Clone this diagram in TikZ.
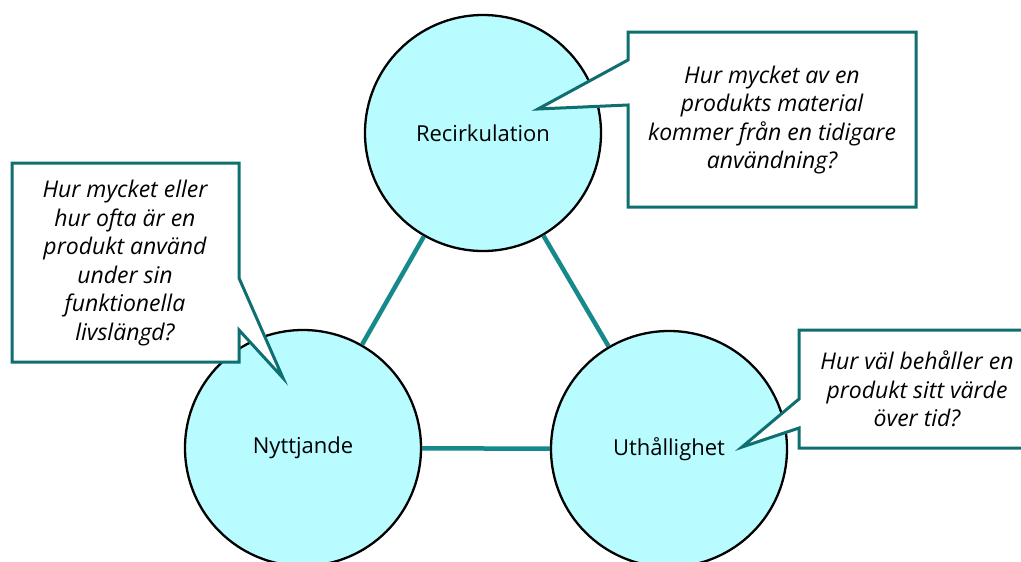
\documentclass[tikz,border=0pt]{standalone}
\usepackage{fontspec}
\setmainfont{Open Sans}
\definecolor{cfill}{HTML}{B8FCFF}
\definecolor{boxteal}{HTML}{0F6E70}
\definecolor{linkteal}{HTML}{16898C}
\begin{document}
\begin{tikzpicture}[x=1pt,y=-1pt,
  pillar/.style={circle, draw=black, line width=2.3pt, fill=cfill, minimum size=236pt, inner sep=0pt, font=\fontsize{22}{26}\selectfont},
  link/.style={draw=linkteal, line width=4.5pt},
  callout/.style={draw=boxteal, line width=3pt, fill=white, line join=miter},
  qtext/.style={align=center, font=\fontsize{23}{28.6}\selectfont\itshape, inner sep=0pt}]
\useasboundingbox (0,0) rectangle (1021,562);
\clip (0,0) rectangle (1021,562);
% circles
\node[pillar] (rec) at (483,133) {Recirkulation};
\node[pillar] (nyt) at (303,448) {Nyttjande};
\node[pillar] (uth) at (669,449) {Uthållighet};
% links
\draw[link] (rec) -- (nyt);
\draw[link] (rec) -- (uth);
\draw[link] (nyt) -- (uth);
% callouts
\coordinate (tipR) at (538,109);
\coordinate (tipN) at (283,378);
\coordinate (tipU) at (742,447);
\draw[callout] (628,32) -- (916,32) -- (916,207) -- (628,207) -- (628,105) -- (tipR) -- (628,60) -- cycle;
\draw[callout] (12,163) -- (239,163) -- (239,278) -- (tipN) -- (239,330) -- (239,362) -- (12,362) -- cycle;
\draw[callout] (799,330) -- (1040,330) -- (1040,448) -- (799,448) -- (799,428) -- (tipU) -- (799,399) -- cycle;
\node[qtext] (qR) at (772,120) {Hur mycket av en\\produkts material\\kommer från en tidigare\\användning?};
\node[qtext] (qN) at (125,263) {Hur mycket eller\\hur ofta är en\\produkt använd\\under sin\\funktionella\\livslängd?};
\node[qtext] (qU) at (917,389) {Hur väl behåller en\\produkt sitt värde\\över tid?};
\end{tikzpicture}
\end{document}
